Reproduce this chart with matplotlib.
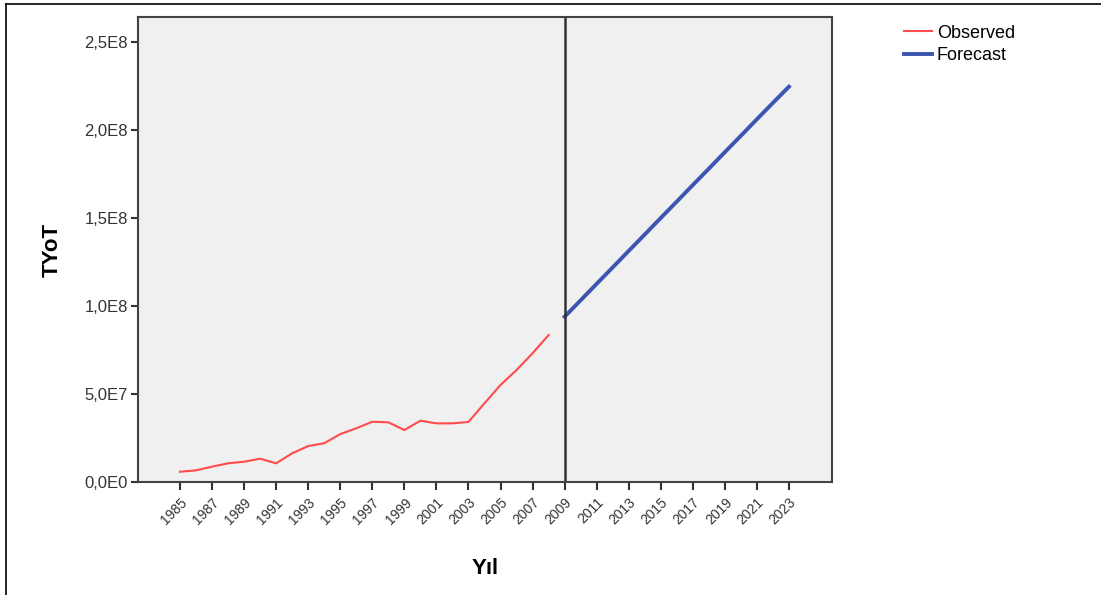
import matplotlib
matplotlib.use('Agg')
import matplotlib.pyplot as plt
from matplotlib.ticker import FuncFormatter
from matplotlib.lines import Line2D

plt.rcParams['font.family'] = ['Liberation Sans', 'DejaVu Sans']

# observed series, 1985-2008
obs_years = list(range(1985, 2009))
obs_vals = [6.0e6, 6.8e6, 8.9e6, 1.08e7, 1.17e7, 1.34e7, 1.08e7, 1.65e7,
            2.06e7, 2.22e7, 2.74e7, 3.07e7, 3.44e7, 3.41e7, 2.97e7, 3.50e7,
            3.35e7, 3.35e7, 3.43e7, 4.49e7, 5.53e7, 6.38e7, 7.33e7, 8.37e7]

# forecast series, 2009-2023
fc_years = list(range(2009, 2024))
fc_vals = [9.41e7, 1.034e8, 1.128e8, 1.221e8, 1.315e8, 1.408e8, 1.502e8,
           1.595e8, 1.689e8, 1.782e8, 1.876e8, 1.969e8, 2.063e8, 2.156e8, 2.248e8]

tick_years = list(range(1985, 2024, 2))
y_ticks = [0, 5e7, 1e8, 1.5e8, 2e8, 2.5e8]


def sci_comma(v, pos):
    if v == 0:
        return "0,0E0"
    exp = len(str(int(abs(v)))) - 1
    mant = v / 10 ** exp
    return f"{mant:.1f}".replace('.', ',') + f"E{exp}"


fig = plt.figure(figsize=(11.01, 5.95), dpi=100)
ax = fig.add_axes([0.1251, 0.1894, 0.6306, 0.782])
ax.set_facecolor('#f0f0f0')

ax.plot(obs_years, obs_vals, color='#ff4b4b', lw=1.5)
ax.plot(fc_years, fc_vals, color='#3b55b0', lw=2.8)
ax.axvline(2009, color='#333333', lw=1.8)

ax.set_xlim(1982.36, 2025.69)
ax.set_ylim(0, 2.644e8)
ax.set_xticks(tick_years)
ax.set_xticklabels([str(y) for y in tick_years], rotation=45, ha='right',
                   rotation_mode='anchor', fontsize=10, color='#333333')
ax.set_yticks(y_ticks)
ax.yaxis.set_major_formatter(FuncFormatter(sci_comma))
ax.tick_params(axis='y', labelsize=12, colors='#333333', length=5, width=1.5, pad=2)
ax.tick_params(axis='x', length=6, width=1.5, colors='#333333')

for s in ax.spines.values():
    s.set_color('#444444')
    s.set_linewidth(1.5)

ax.set_ylabel('TYoT', fontsize=16, fontweight='bold', labelpad=16)
ax.set_xlabel('Yıl', fontsize=16, fontweight='bold', labelpad=22)

handles = [Line2D([], [], color='#ff4b4b', lw=1.5),
           Line2D([], [], color='#3b55b0', lw=2.8)]
fig.legend(handles, ['Observed', 'Forecast'], loc='upper left',
           bbox_to_anchor=(0.8075, 0.983), frameon=False, fontsize=13,
           handlelength=1.6, handletextpad=0.25, labelspacing=0.3,
           borderpad=0.3)

# outer frame lines (top and left)
fig.add_artist(Line2D([0.0055, 1.0], [0.9935, 0.9935], color='black', lw=1.2))
fig.add_artist(Line2D([0.0055, 0.0055], [0.0, 0.9935], color='black', lw=1.2))

fig.savefig('out.png', dpi=100)
